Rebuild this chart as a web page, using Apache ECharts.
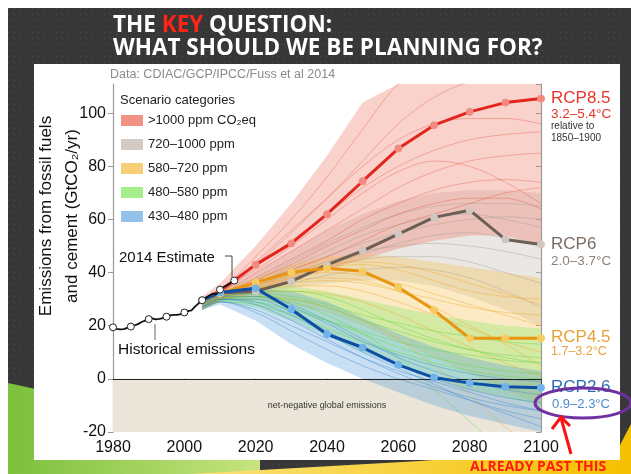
<!DOCTYPE html>
<html>
<head>
<meta charset="utf-8">
<script src="https://cdn.jsdelivr.net/npm/echarts@6/dist/echarts.min.js"></script>
<style>
  html, body { margin: 0; padding: 0; background: #fff; }
  #main { width: 631px; height: 474px; }
</style>
</head>
<body>
<div id="main"></div>
<script>
var FONT = '"Liberation Sans", Arial, sans-serif';

// ---- data ----
var histYears = [1980, 1981, 1982, 1983, 1984, 1985, 1986, 1987, 1988, 1989, 1990, 1991, 1992, 1993, 1994,
  1995, 1996, 1997, 1998, 1999, 2000, 2001, 2002, 2003, 2004, 2005, 2006, 2007, 2008, 2009, 2010, 2011, 2012, 2013, 2014];
var histValues = [19.4, 18.8, 18.6, 18.7, 19.2, 19.7, 20.1, 20.6, 21.4, 21.9, 22.5, 22.8, 22.4, 22.6, 22.9,
  23.4, 23.9, 24.1, 24.1, 24.4, 25.0, 25.5, 25.8, 27.2, 28.4, 29.6, 30.5, 31.4, 32.1, 31.9, 33.6, 34.6, 35.3, 36.1, 37.0];

var scenYears = [2005, 2010, 2020, 2030, 2040, 2050, 2060, 2070, 2080, 2090, 2100];
var rcp85 = [29.5, 33.2, 43.0, 51.0, 62.0, 74.4, 86.7, 95.5, 100.5, 104.0, 105.5];
var rcp6 = [29.5, 32.3, 33.0, 36.7, 42.9, 48.2, 54.5, 60.8, 63.5, 52.5, 50.6];
var rcp45 = [29.5, 32.2, 36.3, 40.1, 41.6, 40.5, 34.5, 25.9, 15.3, 15.3, 15.3];
var rcp26 = [29.5, 32.5, 34.1, 26.2, 16.8, 11.8, 5.3, 0.5, -1.6, -3.0, -3.3];

var categories = ['>1000 ppm CO₂eq', '720–1000 ppm', '580–720 ppm', '480–580 ppm', '430–480 ppm'];

var redLow = [26, 29, 33, 37, 41, 45, 49, 52, 54, 54, 50];
var redHigh = [31, 36, 50, 66, 84, 104, 111, 111, 111, 111, 111];
var grayLow = [26, 29, 32, 34, 36, 37, 37, 35, 31, 26, 20];
var grayHigh = [30, 33, 40, 48, 56, 62, 67, 70, 71, 71, 70];
var orangeLow = [26, 29, 30, 28, 25, 20, 14, 8, 2, -4, -10];
var orangeHigh = [30, 33, 38, 43, 46, 47, 46, 44, 42, 40, 38];
var greenLow = [26, 29, 27, 22, 16, 10, 5, 0, -4, -7, -10];
var greenHigh = [29, 32, 35, 35, 33, 30, 27, 24, 22, 20, 19];
var blueLow = [26, 28, 22, 13, 6, 0, -5, -10, -14, -17, -20];
var blueHigh = [29, 32, 34, 33, 29, 23, 17, 12, 8, 5, 3];

var redLines = [
  [29, 33, 46, 60, 76, 94, 111, 120, 126, 130, 132],
  [28, 32, 43, 55, 68, 82, 96, 106, 112, 116, 118],
  [28, 32, 42, 52, 62, 72, 80, 86, 90, 92, 93],
  [28, 31, 40, 48, 56, 64, 72, 78, 82, 84, 85],
  [27, 31, 38, 45, 52, 60, 66, 71, 74, 75, 74],
  [28, 32, 44, 56, 68, 80, 90, 96, 98, 98, 96],
  [27, 30, 37, 43, 50, 56, 62, 66, 68, 68, 64],
  [29, 33, 41, 50, 60, 70, 78, 82, 80, 74, 66],
  [27, 30, 36, 41, 46, 52, 58, 62, 66, 70, 72]
];
var grayLines = [
  [28, 31, 36, 42, 48, 54, 58, 61, 62, 60, 57],
  [27, 30, 35, 40, 44, 48, 50, 51, 50, 48, 45],
  [27, 30, 34, 38, 42, 45, 46, 46, 44, 40, 36],
  [28, 31, 37, 44, 51, 57, 62, 65, 66, 66, 65],
  [27, 30, 33, 36, 39, 41, 42, 41, 38, 33, 27],
  [28, 31, 36, 41, 46, 51, 55, 58, 60, 61, 60],
  [27, 30, 35, 39, 43, 47, 51, 54, 55, 53, 50]
];
var orangeLines = [
  [28, 31, 35, 38, 40, 39, 36, 32, 28, 24, 20],
  [27, 30, 33, 35, 35, 33, 29, 24, 19, 14, 10],
  [28, 31, 36, 40, 43, 44, 43, 40, 36, 32, 28],
  [27, 30, 32, 33, 32, 29, 24, 18, 12, 6, 1],
  [28, 31, 34, 37, 38, 37, 33, 27, 20, 13, 5],
  [27, 30, 31, 30, 27, 22, 15, 5, -6, -18, -28],
  [28, 31, 35, 39, 42, 43, 41, 37, 33, 31, 30],
  [27, 30, 34, 36, 37, 36, 33, 30, 27, 25, 24]
];
var greenLines = [
  [27, 30, 31, 30, 27, 22, 18, 14, 11, 9, 8],
  [27, 30, 30, 27, 22, 17, 12, 8, 5, 3, 2],
  [28, 31, 33, 33, 31, 26, 20, 15, 11, 8, 6],
  [26, 29, 28, 24, 19, 14, 10, 6, 3, 1, 0],
  [27, 30, 31, 29, 24, 17, 8, -4, -16, -28, -36],
  [28, 31, 32, 31, 28, 24, 21, 18, 16, 14, 13],
  [27, 30, 29, 26, 22, 18, 14, 11, 9, 7, 6]
];
var blueLines = [
  [27, 30, 30, 25, 18, 11, 5, 0, -4, -7, -9],
  [27, 30, 28, 22, 15, 8, 2, -3, -7, -10, -12],
  [28, 31, 32, 28, 22, 15, 8, 3, -1, -4, -6],
  [26, 29, 25, 18, 11, 5, 0, -4, -8, -12, -15],
  [27, 30, 29, 24, 17, 10, 4, -2, -8, -13, -18],
  [28, 31, 31, 27, 21, 14, 9, 5, 2, 0, -1],
  [27, 29, 26, 20, 14, 8, 3, -1, -5, -9, -12]
];

// ---- helpers ----
function pairs(xs, ys) {
  return xs.map(function (x, i) { return [x, ys[i]]; });
}

function band(name, lo, hi, fill, legendColor) {
  return {
    type: 'custom',
    name: name,
    silent: true,
    clip: true,
    z: 1,
    itemStyle: { color: legendColor },
    data: [[scenYears[0], lo[0]]],
    renderItem: function (params, api) {
      var pts = [];
      for (var i = 0; i < scenYears.length; i++) pts.push(api.coord([scenYears[i], hi[i]]));
      for (var j = scenYears.length - 1; j >= 0; j--) pts.push(api.coord([scenYears[j], lo[j]]));
      return { type: 'polygon', shape: { points: pts }, style: { fill: fill } };
    }
  };
}

function spaghetti(list, color) {
  return list.map(function (vals) {
    return {
      type: 'line',
      data: pairs(scenYears, vals),
      symbol: 'none',
      smooth: 0.35,
      silent: true,
      z: 2,
      lineStyle: { width: 0.8, color: color }
    };
  });
}

function rcp(vals, color, dot) {
  return {
    type: 'line',
    data: pairs(scenYears, vals),
    symbol: 'circle',
    symbolSize: 7,
    showAllSymbol: true,
    silent: true,
    z: 8,
    lineStyle: { width: 3, color: color },
    itemStyle: { color: dot, borderColor: dot }
  };
}

var myChart = echarts.init(document.getElementById('main'));

var dots = document.createElement('canvas');
dots.width = 6; dots.height = 6;
var dctx = dots.getContext('2d');
dctx.fillStyle = '#373737'; dctx.fillRect(0, 0, 6, 6);
dctx.fillStyle = '#4c4c4c'; dctx.fillRect(2, 2, 1, 1);

var series = [];
series.push({
  type: 'line',
  data: [],
  silent: true,
  z: 0,
  markArea: {
    silent: true,
    itemStyle: { color: '#ebe6d9' },
    label: { show: true, position: 'inside', formatter: 'net-negative global emissions', fontSize: 9, color: '#333', fontFamily: FONT },
    data: [[{ xAxis: 1980, yAxis: 0 }, { xAxis: 2100, yAxis: -20 }]]
  }
});
series.push(band(categories[1], grayLow, grayHigh, 'rgba(200,192,185,0.38)', '#d2cac3'));
series.push(band(categories[0], redLow, redHigh, 'rgba(238,105,85,0.30)', '#f29283'));
series.push(band(categories[2], orangeLow, orangeHigh, 'rgba(246,190,70,0.32)', '#f6cf78'));
series.push(band(categories[3], greenLow, greenHigh, 'rgba(125,230,95,0.32)', '#a4ef8c'));
series.push(band(categories[4], blueLow, blueHigh, 'rgba(85,155,220,0.32)', '#92c2ea'));
series = series.concat(spaghetti(grayLines, 'rgba(165,155,146,0.5)'));
series = series.concat(spaghetti(redLines, 'rgba(228,75,55,0.45)'));
series = series.concat(spaghetti(orangeLines, 'rgba(240,170,40,0.55)'));
series = series.concat(spaghetti(greenLines, 'rgba(95,215,65,0.55)'));
series = series.concat(spaghetti(blueLines, 'rgba(60,135,205,0.55)'));
series.push({
  type: 'line',
  data: [],
  silent: true,
  z: 7,
  markLine: {
    silent: true,
    symbol: 'none',
    label: { show: false },
    lineStyle: { color: '#222', width: 1, type: 'solid' },
    data: [{ yAxis: 0 }]
  }
});
series.push(rcp(rcp6, '#6b5f56', '#cfc7c0'));
series.push(rcp(rcp85, '#e2261c', '#f38a7f'));
series.push(rcp(rcp45, '#e8960f', '#f6cb62'));
series.push(rcp(rcp26, '#0c4da6', '#72b2ea'));
series.push({
  type: 'line',
  data: pairs(histYears, histValues),
  symbol: 'circle',
  showAllSymbol: true,
  symbolSize: function (v) { return (v[0] % 5 === 0 || v[0] === 2014) ? 7 : 0; },
  silent: true,
  z: 10,
  lineStyle: { width: 1.8, color: '#111' },
  itemStyle: { color: '#fff', borderColor: '#222', borderWidth: 1 }
});

var option = {
  backgroundColor: '#fff',
  animation: false,
  textStyle: { fontFamily: FONT },
  grid: { left: 113, right: 90, top: 84, bottom: 42 },
  legend: {
    data: categories,
    orient: 'vertical',
    left: 121,
    top: 114,
    padding: 0,
    itemWidth: 22,
    itemHeight: 11,
    itemGap: 11,
    icon: 'rect',
    selectedMode: false,
    textStyle: { fontSize: 13, color: '#222', fontFamily: FONT }
  },
  xAxis: [
    {
      type: 'value', min: 1980, max: 2100, interval: 20, position: 'bottom',
      axisLine: { lineStyle: { color: '#111', width: 1.2 } },
      axisTick: { length: 5, lineStyle: { color: '#111' } },
      axisLabel: { fontSize: 16, color: '#111', margin: 8, formatter: function (v) { return String(v); } },
      splitLine: { show: false }
    },
    {
      type: 'value', min: 1980, max: 2100, interval: 20, position: 'top',
      axisLine: { lineStyle: { color: '#444' } },
      axisTick: { inside: true, length: 5, lineStyle: { color: '#444' } },
      axisLabel: { show: false },
      splitLine: { show: false }
    }
  ],
  yAxis: [
    {
      type: 'value', min: -20, max: 111, interval: 20, position: 'left',
      axisLine: { show: true, lineStyle: { color: '#999', width: 1.2 } },
      axisTick: { show: true, length: 5, lineStyle: { color: '#999' } },
      axisLabel: { fontSize: 16, color: '#111', margin: 7, showMaxLabel: false },
      splitLine: { show: false }
    },
    {
      type: 'value', min: -20, max: 111, interval: 20, position: 'right',
      axisLine: { show: true, lineStyle: { color: '#999', width: 1.2 } },
      axisTick: { show: true, inside: true, length: 5, lineStyle: { color: '#999' } },
      axisLabel: { show: false },
      splitLine: { show: false }
    }
  ],
  graphic: [
    { type: 'rect', z: -20, silent: true, shape: { x: 8, y: 8, width: 623, height: 466 }, style: { fill: { image: dots, repeat: 'repeat' } } },
    {
      type: 'polygon', z: -19, silent: true,
      shape: { points: [[8, 383], [40, 390], [260, 452], [260, 474], [8, 474]] },
      style: { fill: new echarts.graphic.LinearGradient(0, 0, 1, 0, [{ offset: 0, color: '#7cc03c' }, { offset: 1, color: '#c6e47e' }]) }
    },
    {
      type: 'polygon', z: -18, silent: true,
      shape: { points: [[190, 474], [420, 461], [620, 445], [631, 424], [631, 474]] },
      style: { fill: new echarts.graphic.LinearGradient(0, 0, 1, 0, [{ offset: 0, color: '#fbe27a' }, { offset: 1, color: '#f5c000' }]) }
    },
    { type: 'rect', z: -17, silent: true, shape: { x: 34, y: 64, width: 586, height: 396 }, style: { fill: '#fff' } },
    {
      type: 'text', z: 50, silent: true, x: 113, y: 26,
      style: {
        text: '{w|THE }{r|KEY}{w| QUESTION:}', verticalAlign: 'middle',
        rich: {
          w: { fill: '#fff', fontSize: 22.5, fontWeight: 'bold', fontFamily: '"Open Sans", sans-serif' },
          r: { fill: '#ff2418', fontSize: 22.5, fontWeight: 'bold', fontFamily: '"Open Sans", sans-serif' }
        }
      }
    },
    {
      type: 'text', z: 50, silent: true, x: 113, y: 49,
      style: { text: 'WHAT SHOULD WE BE PLANNING FOR?', fill: '#fff', fontSize: 22.5, fontWeight: 'bold', fontFamily: '"Open Sans", sans-serif', verticalAlign: 'middle' }
    },
    { type: 'text', z: 50, silent: true, x: 110, y: 75, style: { text: 'Data: CDIAC/GCP/IPCC/Fuss et al 2014', fill: '#8a8a8a', fontSize: 12.5, fontFamily: FONT, verticalAlign: 'middle' } },
    { type: 'text', z: 50, silent: true, x: 46, y: 216, rotation: Math.PI / 2, style: { text: 'Emissions from fossil fuels', fill: '#111', fontSize: 17, fontFamily: FONT, align: 'center', verticalAlign: 'middle' } },
    { type: 'text', z: 50, silent: true, x: 72, y: 216, rotation: Math.PI / 2, style: { text: 'and cement (GtCO₂/yr)', fill: '#111', fontSize: 17, fontFamily: FONT, align: 'center', verticalAlign: 'middle' } },
    { type: 'text', z: 50, silent: true, x: 120, y: 100, style: { text: 'Scenario categories', fill: '#222', fontSize: 13, fontFamily: FONT, verticalAlign: 'middle' } },
    { type: 'text', z: 50, silent: true, x: 119, y: 258, style: { text: '2014 Estimate', fill: '#111', fontSize: 15, fontFamily: FONT, verticalAlign: 'middle' } },
    { type: 'polyline', z: 50, silent: true, shape: { points: [[225, 256], [232, 256], [232, 277]] }, style: { stroke: '#444', lineWidth: 1, fill: null } },
    { type: 'text', z: 50, silent: true, x: 118, y: 350, style: { text: 'Historical emissions', fill: '#111', fontSize: 15.5, fontFamily: FONT, verticalAlign: 'middle' } },
    { type: 'line', z: 50, silent: true, shape: { x1: 155, y1: 324, x2: 155, y2: 340 }, style: { stroke: '#999', lineWidth: 1.5 } },
    { type: 'text', z: 50, silent: true, x: 551, y: 98, style: { text: 'RCP8.5', fill: '#e8352a', fontSize: 17, fontFamily: FONT, verticalAlign: 'middle' } },
    { type: 'text', z: 50, silent: true, x: 551, y: 114, style: { text: '3.2–5.4°C', fill: '#e8352a', fontSize: 13.5, fontFamily: FONT, verticalAlign: 'middle' } },
    { type: 'text', z: 50, silent: true, x: 551, y: 126, style: { text: 'relative to', fill: '#333', fontSize: 10, fontFamily: FONT, verticalAlign: 'middle' } },
    { type: 'text', z: 50, silent: true, x: 551, y: 138, style: { text: '1850–1900', fill: '#333', fontSize: 10, fontFamily: FONT, verticalAlign: 'middle' } },
    { type: 'text', z: 50, silent: true, x: 551, y: 244, style: { text: 'RCP6', fill: '#7a6d64', fontSize: 17, fontFamily: FONT, verticalAlign: 'middle' } },
    { type: 'text', z: 50, silent: true, x: 551, y: 261, style: { text: '2.0–3.7°C', fill: '#8d8279', fontSize: 13.5, fontFamily: FONT, verticalAlign: 'middle' } },
    { type: 'text', z: 50, silent: true, x: 551, y: 337, style: { text: 'RCP4.5', fill: '#e8a23a', fontSize: 17, fontFamily: FONT, verticalAlign: 'middle' } },
    { type: 'text', z: 50, silent: true, x: 551, y: 352, style: { text: '1.7–3.2°C', fill: '#e8a23a', fontSize: 12.5, fontFamily: FONT, verticalAlign: 'middle' } },
    { type: 'text', z: 50, silent: true, x: 551, y: 387, style: { text: 'RCP2.6', fill: '#2f6cb5', fontSize: 17, fontFamily: FONT, verticalAlign: 'middle' } },
    { type: 'text', z: 50, silent: true, x: 552, y: 404, style: { text: '0.9–2.3°C', fill: '#4a8bcc', fontSize: 13, fontFamily: FONT, verticalAlign: 'middle' } },
    { type: 'ellipse', z: 51, silent: true, shape: { cx: 583, cy: 403, rx: 48, ry: 15 }, style: { stroke: '#7030a0', lineWidth: 3, fill: null } },
    { type: 'line', z: 51, silent: true, shape: { x1: 571, y1: 454, x2: 561, y2: 418 }, style: { stroke: '#ff1010', lineWidth: 3 } },
    { type: 'polyline', z: 51, silent: true, shape: { points: [[552, 429], [561, 417], [570, 426]] }, style: { stroke: '#ff1010', lineWidth: 3, fill: null } },
    { type: 'text', z: 51, silent: true, x: 470, y: 467, style: { text: 'ALREADY PAST THIS', fill: '#ff1a10', fontSize: 14, fontWeight: 'bold', fontFamily: '"Open Sans", sans-serif', verticalAlign: 'middle' } }
  ],
  series: series
};

myChart.setOption(option);
window.addEventListener('resize', function () {
  myChart.resize();
});
</script>
</body>
</html>
